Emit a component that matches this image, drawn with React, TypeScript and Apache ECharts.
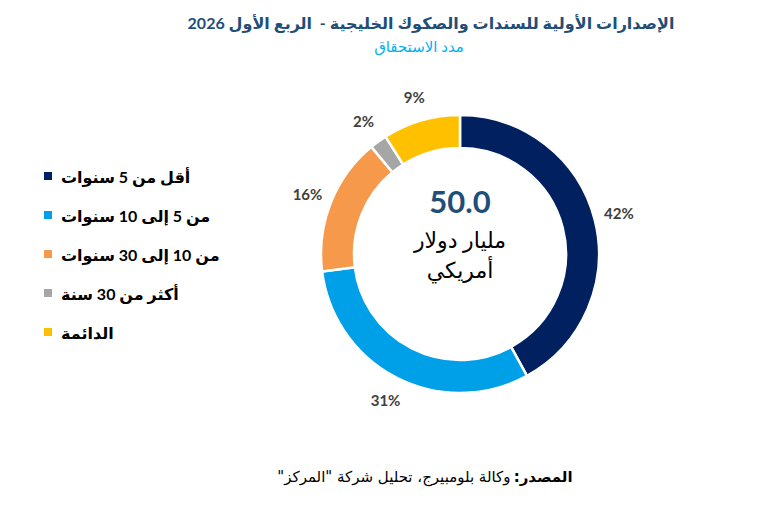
import React, { useEffect, useRef } from "react";
import * as echarts from "echarts";

// Wraps Arabic strings in a right-to-left embedding so neutrals land correctly
const rtl = (s: string) => "\u202B" + s + "\u202C";

const categories = [
  "أقل من 5 سنوات",
  "من 5 إلى 10 سنوات",
  "من 10 إلى 30 سنوات",
  "أكثر من 30 سنة",
  "الدائمة",
];
const shares = [42, 31, 16, 2, 9];
const colors = ["#002060", "#00A0E9", "#F7994B", "#A6A6A6", "#FFC000"];

const titleText = "الإصدارات الأولية للسندات والصكوك الخليجية -  الربع الأول 2026";
const subtitleText = "مدد الاستحقاق";
const totalValue = "50.0";
const unitLines = ["مليار دولار", "أمريكي"];
const sourceLabel = ":المصدر";
const sourceText = 'وكالة بلومبيرج، تحليل شركة "المركز"';

const FONT = "Lato, 'DejaVu Sans', sans-serif";
const CX = 460;
const CY = 254;

export default function App() {
  const ref = useRef<HTMLDivElement>(null);

  useEffect(() => {
    if (!ref.current) return;
    const chart = echarts.init(ref.current, null, { renderer: "svg" });
    const data = categories.map((name, i) => ({
      name: rtl(name),
      value: shares[i],
      itemStyle: { color: colors[i] },
    }));

    chart.setOption({
      animation: false,
      backgroundColor: "#ffffff",
      textStyle: { fontFamily: FONT },
      title: [
        {
          text: rtl(titleText),
          left: 426,
          top: 9,
          textAlign: "center",
          textStyle: { fontSize: 16, fontWeight: "bold", color: "#1F4E79", fontFamily: FONT },
        },
        {
          text: rtl(subtitleText),
          left: 414,
          top: 33,
          textAlign: "center",
          textStyle: { fontSize: 15, fontWeight: "normal", color: "#00B0F0", fontFamily: FONT },
        },
      ],
      legend: {
        orient: "vertical",
        left: 42,
        top: 168,
        padding: 0,
        itemWidth: 10,
        itemHeight: 10,
        itemGap: 23,
        icon: "rect",
        data: categories.map((c) => rtl(c)),
        textStyle: { fontSize: 16, fontWeight: "bold", color: "#000000", fontFamily: FONT, padding: [0, 0, 0, 3] },
      },
      series: [
        {
          type: "pie",
          center: [CX, CY],
          radius: [106, 139],
          startAngle: 90,
          clockwise: true,
          label: { show: false },
          labelLine: { show: false },
          itemStyle: { borderColor: "#ffffff", borderWidth: 2.5 },
          data,
        },
        {
          // Transparent ring that only carries the percentage labels
          type: "pie",
          center: [CX, CY],
          radius: [148, 174],
          startAngle: 90,
          clockwise: true,
          silent: true,
          label: {
            show: true,
            position: "inside",
            formatter: "{c}%",
            fontSize: 15,
            fontWeight: "bold",
            color: "#404040",
            fontFamily: FONT,
          },
          labelLine: { show: false },
          itemStyle: { color: "rgba(0,0,0,0)" },
          data: categories.map((name, i) => ({ name: rtl(name), value: shares[i] })),
        },
      ],
      graphic: [
        {
          type: "text",
          x: CX,
          y: CY - 53,
          style: {
            text: totalValue,
            fill: "#1F4E79",
            font: `bold 31px ${FONT}`,
            textAlign: "center",
            textVerticalAlign: "middle",
          },
        },
        {
          type: "text",
          x: CX,
          y: CY - 15,
          style: {
            text: rtl(unitLines[0]),
            fill: "#000000",
            font: `22px ${FONT}`,
            textAlign: "center",
            textVerticalAlign: "middle",
          },
        },
        {
          type: "text",
          x: CX,
          y: CY + 15,
          style: {
            text: rtl(unitLines[1]),
            fill: "#000000",
            font: `22px ${FONT}`,
            textAlign: "center",
            textVerticalAlign: "middle",
          },
        },
        {
          type: "text",
          x: 425,
          y: 477,
          style: {
            text: `{r|${rtl(sourceText)}} {b|${sourceLabel}}`,
            textAlign: "center",
            textVerticalAlign: "middle",
            rich: {
              r: { fontSize: 15, fontFamily: "'DejaVu Sans', sans-serif", fill: "#000000" },
              b: { fontSize: 15, fontWeight: "bold", fontFamily: "'DejaVu Sans', sans-serif", fill: "#000000" },
            },
          },
        },
      ],
    });

    return () => chart.dispose();
  }, []);

  return (
    <div
      ref={ref}
      style={{ position: "fixed", left: 0, top: 0, width: 757, height: 508 }}
    />
  );
}
